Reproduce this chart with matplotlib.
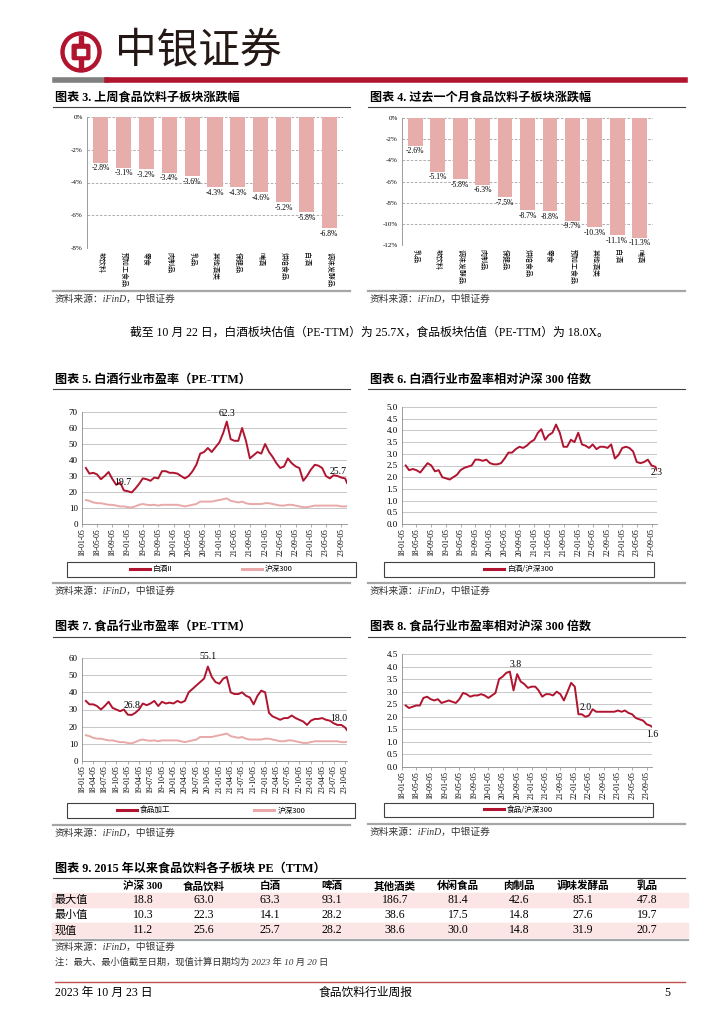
import matplotlib
matplotlib.use('Agg')
import matplotlib.pyplot as plt
import matplotlib.dates as mdates
from matplotlib.lines import Line2D
from matplotlib.patches import Rectangle, Circle, FancyBboxPatch
import numpy as np
import pandas as pd

plt.rcParams['font.family'] = ['Liberation Serif', 'Noto Sans CJK SC']
plt.rcParams['axes.unicode_minus'] = False

W, H = 724, 1024
RED = '#B0142F'
PINK = '#E8A9A8'
BAR = '#E6ADAB'
GRID = '#BFBFBF'
AXC = '#8C8C8C'

# ---- data ----
week_cats = ['软饮料', '预加工食品', '零食', '肉制品', '乳品', '其他酒类',
             '保健品', '啤酒', '烘焙食品', '白酒', '调味发酵品']
week_chg = [-2.8, -3.1, -3.2, -3.4, -3.6, -4.3, -4.3, -4.6, -5.2, -5.8, -6.8]

month_cats = ['乳品', '软饮料', '调味发酵品', '肉制品', '保健品', '烘焙食品',
              '零食', '预加工食品', '其他酒类', '白酒', '啤酒']
month_chg = [-2.6, -5.1, -5.8, -6.3, -7.5, -8.7, -8.8, -9.7, -10.3, -11.1, -11.3]

# monthly points, 2018-01 .. 2023-10
baijiu_pe = [35, 31.5, 32, 31, 28, 30, 32.5, 28, 24.5, 26, 21, 20.5,
             19.7, 22, 25, 28.5, 28, 27, 29, 28.5, 33, 33, 32, 32,
             31.5, 30, 28.5, 30, 33, 37, 44, 45, 47.5, 45, 48, 51,
             57, 64, 53, 52, 52, 60, 52, 41, 43, 45, 44, 50,
             45, 42, 38, 35, 36, 41, 38, 36, 35, 27, 30, 34,
             37, 36.5, 35, 30, 28.5, 30.5, 30, 29, 28.5, 25.7]
hs300_pe = [15, 14.5, 13.5, 13, 13, 12.5, 12, 12, 11.5, 11, 11, 10.5,
            10.3, 11, 12, 12.5, 12, 11.8, 12, 11.5, 12, 12, 12, 12,
            12, 11.5, 11, 11.5, 12, 12.5, 14, 14, 14, 14, 14.5, 15,
            15.5, 16, 14.5, 14, 13.5, 14, 13, 12.5, 12.5, 12.5, 12.5, 13,
            13, 12.5, 12, 11.5, 11.5, 12, 12, 11.5, 11, 10.5, 10.5, 11,
            11.5, 11.5, 11.5, 11.5, 11.5, 11.5, 11.5, 11, 11, 11.2]
baijiu_rel = [2.5, 2.3, 2.35, 2.3, 2.2, 2.4, 2.6, 2.5, 2.25, 2.3, 2.0, 1.95,
              1.9, 2.0, 2.1, 2.3, 2.4, 2.45, 2.5, 2.75, 2.75, 2.7, 2.75, 2.6,
              2.55, 2.55, 2.6, 2.8, 3.05, 3.05, 3.2, 3.3, 3.25, 3.35, 3.5, 3.6,
              3.9, 4.05, 3.6, 3.8, 3.9, 4.25, 3.9, 3.3, 3.3, 3.6, 3.5, 3.9,
              3.4, 3.35, 3.25, 3.4, 3.2, 3.3, 3.3, 3.25, 3.4, 2.8, 2.95, 3.25,
              3.3, 3.25, 3.1, 2.65, 2.6, 2.65, 2.75, 2.5, 2.45, 2.3]
food_pe = [35, 33, 33, 32, 30, 32, 34.5, 31, 30, 29, 30, 27,
           26.8, 28, 30, 33.5, 32.5, 33.5, 35, 32, 34.5, 33.5, 34, 33.5,
           35, 34, 35, 40, 42, 44, 46, 48, 55, 49, 46, 45,
           48, 49, 40, 39, 39, 40, 38, 37, 33, 38, 41, 40,
           28, 26, 25, 24, 25, 25, 26.5, 25, 24, 23, 21, 23.5,
           24.5, 24.5, 25, 24, 23.5, 22, 21, 21, 19.5, 18.0]
food_rel = [2.45, 2.35, 2.4, 2.45, 2.45, 2.75, 2.8, 2.7, 2.65, 2.7, 2.55, 2.6,
            2.65, 2.6, 2.55, 2.7, 2.95, 2.9, 2.8, 2.85, 2.85, 2.9, 2.85, 2.75,
            2.85, 2.95, 3.5, 3.6, 3.75, 3.8, 3.05, 3.7, 3.4, 3.3, 3.15, 3.2,
            3.2, 3.05, 2.8, 2.9, 2.9, 2.85, 3.0, 2.9, 2.65, 3.0, 3.35, 3.2,
            2.1, 2.1, 2.0, 2.05, 2.3, 2.2, 2.2, 2.2, 2.2, 2.2, 2.2, 2.25,
            2.2, 2.25, 2.15, 2.1, 1.95, 1.9, 1.85, 1.7, 1.65, 1.6]

dates = list(pd.date_range('2018-01-05', periods=69, freq='MS') + pd.Timedelta(days=4))
dates.append(pd.Timestamp('2023-10-20'))

tbl_cols = ['沪深 300', '食品饮料', '白酒', '啤酒', '其他酒类', '休闲食品', '肉制品', '调味发酵品', '乳品']
tbl_rows = ['最大值', '最小值', '现值']
tbl_max = [18.8, 63.0, 63.3, 93.1, 186.7, 81.4, 42.6, 85.1, 47.8]
tbl_min = [10.3, 22.3, 14.1, 28.2, 38.6, 17.5, 14.8, 27.6, 19.7]
tbl_now = [11.2, 25.6, 25.7, 28.2, 38.6, 30.0, 14.8, 31.9, 20.7]

fig = plt.figure(figsize=(W / 100, H / 100), dpi=100)


def fx(x):
    return x / W


def fy(y):
    return 1 - y / H


def px_axes(x0, y0, x1, y1):
    return fig.add_axes([x0 / W, 1 - y1 / H, (x1 - x0) / W, (y1 - y0) / H])


def hline(x0, x1, y, color, lw):
    fig.add_artist(Line2D([fx(x0), fx(x1)], [fy(y), fy(y)], color=color, lw=lw,
                          transform=fig.transFigure))


def ftext(x, y, s, **kw):
    kw.setdefault('va', 'center')
    fig.text(fx(x), fy(y), s, **kw)


def block_title(x, y, s, x1):
    ftext(x, y, s, fontsize=8.7, fontweight='bold')
    hline(x - 2, x1, y + 9, '#404040', 0.8)


def source_text(x, y, s='资料来源：iFinD，中银证券', size=7):
    ftext(x, y, s, fontsize=size, style='italic', color='#333333')


def block_source(x, y, x1):
    hline(x - 2, x1, y, '#A6A6A6', 1.6)
    source_text(x, y + 8)


# ---- header ----
lax = px_axes(60, 31, 102, 73)
lax.set_xlim(-1.05, 1.05)
lax.set_ylim(-1.05, 1.05)
lax.set_aspect('equal')
lax.axis('off')
lax.add_patch(Circle((0, 0), 1.0, color=RED))
lax.add_patch(Circle((0, 0), 0.78, color='white'))
lax.add_patch(Rectangle((-0.1, -0.8), 0.2, 1.6, color=RED))
lax.add_patch(FancyBboxPatch((-0.36, -0.3), 0.72, 0.6, boxstyle='round,pad=0.08', color=RED))
lax.add_patch(Rectangle((-0.2, -0.14), 0.4, 0.28, color='white'))
ftext(115, 51, '中银证券', fontsize=30, family=['Noto Sans CJK SC'], color='#231815')
hline(55, 107, 80, '#7F7F7F', 4)
hline(107, 685, 80, RED, 4)


# ---- bar charts ----
def bar_chart(box, cats, vals, ymin):
    ax = px_axes(*box)
    xs = np.arange(len(cats))
    ax.bar(xs, vals, width=0.66, color=BAR, zorder=2)
    ax.set_xlim(-0.6, len(cats) - 0.4)
    ax.set_ylim(ymin, 0)
    ticks = np.arange(0, ymin - 1, -2)
    ax.set_yticks(ticks)
    ax.set_yticklabels([f'{t}%' for t in ticks], fontsize=5)
    ax.yaxis.grid(True, ls=(0, (3, 2)), color='#A0A0A0', lw=0.6)
    ax.set_axisbelow(True)
    for s in ['top', 'right', 'bottom']:
        ax.spines[s].set_visible(False)
    ax.spines['left'].set_color(AXC)
    ax.spines['left'].set_linewidth(0.6)
    ax.tick_params(axis='y', length=0, pad=3)
    ax.set_xticks(xs)
    ax.set_xticklabels(cats, rotation=-90, fontsize=5, family=['Noto Sans CJK SC'])
    ax.tick_params(axis='x', length=0, pad=3)
    for x, v in zip(xs, vals):
        ax.text(x, v - abs(ymin) * 0.012, f'{v:.1f}%', ha='center', va='top', fontsize=5.5)
    return ax


block_title(55, 98, '图表 3. 上周食品饮料子板块涨跌幅', 350)
bar_chart((87, 117, 343, 248), week_cats, week_chg, -8)
block_source(55, 291, 350)

block_title(370, 98, '图表 4. 过去一个月食品饮料子板块涨跌幅', 685)
bar_chart((402, 118, 653, 245), month_cats, month_chg, -12)
block_source(370, 291, 685)

ftext(130, 333, '截至 10 月 22 日，白酒板块估值（PE-TTM）为 25.7X，食品板块估值（PE-TTM）为 18.0X。',
      fontsize=8.5)


# ---- line charts ----
def line_chart(box, series, ymax, ystep, tick_months, fmt_dec):
    ax = px_axes(*box)
    for vals, col in series:
        ax.plot(dates, vals, color=col, lw=1.4)
    ax.set_xlim(dates[0], dates[-1])
    ax.set_ylim(0, ymax)
    yt = np.arange(0, ymax + ystep / 2, ystep)
    ax.set_yticks(yt)
    ax.set_yticklabels([f'{t:.1f}' if fmt_dec else f'{t:.0f}' for t in yt], fontsize=6.5)
    ax.yaxis.grid(True, color=GRID, lw=0.6)
    ax.set_axisbelow(True)
    xt = pd.date_range('2018-01-01', '2023-10-01', freq=f'{tick_months}MS') + pd.Timedelta(days=4)
    ax.set_xticks(xt)
    ax.xaxis.set_major_formatter(mdates.DateFormatter('%y-%m-%d'))
    plt.setp(ax.get_xticklabels(), rotation=90, fontsize=5.5)
    ax.tick_params(axis='x', length=2, width=0.5, color=AXC, pad=1)
    ax.tick_params(axis='y', length=0, pad=3)
    for s in ['top', 'right']:
        ax.spines[s].set_visible(False)
    for s in ['left', 'bottom']:
        ax.spines[s].set_color(AXC)
        ax.spines[s].set_linewidth(0.6)
    return ax


def note(ax, i, vals, s, dy, ha='center'):
    ax.text(dates[i], vals[i] + dy, s, ha=ha, va='center', fontsize=7)


def legend_box(box, ax, labels, colors, colsp):
    x0, y0, x1, y1 = box
    fig.add_artist(Rectangle((fx(x0), fy(y1)), fx(x1) - fx(x0), fy(y0) - fy(y1),
                             transform=fig.transFigure, fill=False, ec='#404040', lw=0.8))
    handles = [Line2D([], [], color=c, lw=2.2) for c in colors]
    ax.legend(handles, labels, loc='center', bbox_to_anchor=(fx((x0 + x1) / 2), fy((y0 + y1) / 2)),
              bbox_transform=fig.transFigure, ncol=len(labels), frameon=False,
              prop={'family': ['Noto Sans CJK SC'], 'size': 5.5},
              handlelength=2.6, handletextpad=0.4, columnspacing=colsp)


# chart 5
block_title(55, 380, '图表 5. 白酒行业市盈率（PE-TTM）', 350)
ax5 = line_chart((82, 412, 347, 524), [(hs300_pe, PINK), (baijiu_pe, RED)], 70, 10, 4, False)
i = int(np.argmax(baijiu_pe))
note(ax5, i, baijiu_pe, '62.3', 5)
i = int(np.argmin(baijiu_pe[:24]))
note(ax5, i, baijiu_pe, '19.7', 6, ha='right')
note(ax5, len(dates) - 1, baijiu_pe, '25.7', 7, ha='right')
legend_box((67, 562, 356, 577), ax5, ['白酒II', '沪深300'], [RED, PINK], 9)
block_source(55, 583, 350)

# chart 6
block_title(370, 380, '图表 6. 白酒行业市盈率相对沪深 300 倍数', 685)
ax6 = line_chart((402, 407, 657, 524), [(baijiu_rel, RED)], 5.0, 0.5, 4, True)
note(ax6, len(dates) - 1, baijiu_rel, '2.3', -0.12)
legend_box((384, 562, 654, 577), ax6, ['白酒/沪深300'], [RED], 2)
block_source(370, 583, 685)

# chart 7
block_title(55, 628, '图表 7. 食品行业市盈率（PE-TTM）', 350)
ax7 = line_chart((82, 658, 347, 761), [(hs300_pe, PINK), (food_pe, RED)], 60, 10, 3, False)
i = int(np.argmax(food_pe))
note(ax7, i, food_pe, '55.1', 6)
i = int(np.argmin(food_pe[:24]))
note(ax7, i, food_pe, '26.8', 5.5)
note(ax7, len(dates) - 1, food_pe, '18.0', 7, ha='right')
legend_box((67, 803, 355, 818), ax7, ['食品加工', '沪深300'], [RED, PINK], 11)
block_source(55, 825, 350)

# chart 8
block_title(370, 628, '图表 8. 食品行业市盈率相对沪深 300 倍数', 685)
ax8 = line_chart((402, 654, 652, 767), [(food_rel, RED)], 4.5, 0.5, 4, True)
i = int(np.argmax(food_rel))
note(ax8, i, food_rel, '3.8', 0.3, ha='left')
i = 48 + int(np.argmin(food_rel[48:54]))
note(ax8, i, food_rel, '2.0', 0.35)
note(ax8, len(dates) - 1, food_rel, '1.6', -0.3)
legend_box((384, 803, 653, 817), ax8, ['食品/沪深300'], [RED], 2)
block_source(370, 824, 685)

# ---- table ----
block_title(55, 869, '图表 9. 2015 年以来食品饮料各子板块 PE（TTM）', 685)
col_x = [143, 204, 270, 332, 395, 458, 519, 583, 647]
row_y = [900, 915, 930]
for y in (row_y[0], row_y[2]):
    fig.add_artist(Rectangle((fx(52), fy(y + 7)), fx(688) - fx(52), fy(y - 7) - fy(y + 7),
                             transform=fig.transFigure, color='#FBE5E5', zorder=0))
for x, c in zip(col_x, tbl_cols):
    ftext(x, 886, c, fontsize=7.6, fontweight='bold', ha='center')
for y, name, vals in zip(row_y, tbl_rows, [tbl_max, tbl_min, tbl_now]):
    ftext(55, y, name, fontsize=8)
    for x, v in zip(col_x, vals):
        ftext(x, y, f'{v:.1f}', fontsize=8.5, ha='center')
hline(53, 688, 940, '#A6A6A6', 1.6)
source_text(55, 947)
source_text(55, 962, '注：最大、最小值截至日期，现值计算日期均为 2023 年 10 月 20 日', size=6.7)

# ---- footer ----
hline(55, 685, 982, '#C0504D', 1.0)
ftext(55, 993, '2023 年 10 月 23 日', fontsize=8.5)
ftext(366, 993, '食品饮料行业周报', fontsize=8.5, ha='center')
ftext(670, 993, '5', fontsize=8.5, ha='right')

fig.savefig('out.png', dpi=100, facecolor='white')
